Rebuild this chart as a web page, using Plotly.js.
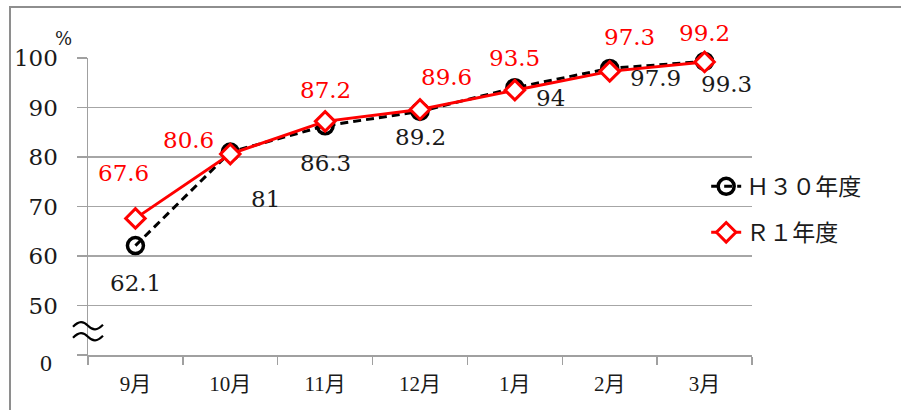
<!DOCTYPE html>
<html><head><meta charset="utf-8">
<script src="https://cdn.plot.ly/plotly-3.0.1.min.js"></script>
<style>
html,body{margin:0;padding:0;background:#fff;}
#wrap{position:relative;width:901px;height:410px;}
#chart{width:901px;height:410px;}
#frame{position:absolute;left:9px;top:6px;right:0;bottom:0;border-left:2px solid #8e8e8e;border-top:2px solid #8e8e8e;pointer-events:none;}
</style></head>
<body><div id="wrap"><div id="chart"></div><div id="frame"></div></div>
<script>
// ---- data ----
const categories = ['9月','10月','11月','12月','1月','2月','3月'];
const seriesNames = ['Ｈ３０年度','Ｒ１年度'];
const h30 = [62.1, 81, 86.3, 89.2, 94, 97.9, 99.3];
const r1  = [67.6, 80.6, 87.2, 89.6, 93.5, 97.3, 99.2];
const yTickVals = [40, 50, 60, 70, 80, 90, 100];
const yTickText = ['', '50', '60', '70', '80', '90', '100'];
const axisBaseLabel = '0';
const unitLabel = '%';

// ---- label placement (pixels: [dx, dy up]) ----
const h30Shift = [[0,-37],[35,-47],[0,-37],[0,-26],[36,-10],[46,-10],[22,-23]];
const r1Shift  = [[-12,45],[-42,14],[0,31],[26,32],[0,32],[20,34],[0,29]];

const numFont = 'DejaVu Serif, Liberation Serif, serif';
const jpFont = 'Liberation Serif, Noto Sans CJK JP, serif';

const traces = [
  {x: categories, y: h30, name: seriesNames[0], type: 'scatter', mode: 'lines+markers',
   legendgroup: 'a', cliponaxis: false,
   line: {color: '#000', width: 3, dash: '8px,5px'},
   marker: {symbol: 'circle-open', size: 16, color: '#000', line: {width: 3.5, color: '#000'}}},
  {x: categories, y: r1, name: seriesNames[1], type: 'scatter', mode: 'lines+markers',
   legendgroup: 'b', cliponaxis: false,
   line: {color: '#ff0000', width: 3},
   marker: {symbol: 'diamond', size: 15, color: '#fff', line: {width: 3, color: '#ff0000'}}}
];

const annotations = [];
h30.forEach((v, i) => annotations.push({x: categories[i], y: v, xref: 'x', yref: 'y', text: String(v),
  showarrow: false, xshift: h30Shift[i][0], yshift: h30Shift[i][1],
  font: {family: numFont, size: 23, color: '#1a1a1a'}}));
r1.forEach((v, i) => annotations.push({x: categories[i], y: v, xref: 'x', yref: 'y', text: String(v),
  showarrow: false, xshift: r1Shift[i][0], yshift: r1Shift[i][1],
  font: {family: numFont, size: 23, color: '#ff0000'}}));
annotations.push({x: 0, y: 40, xref: 'paper', yref: 'y', text: axisBaseLabel, showarrow: false,
  xanchor: 'center', yanchor: 'middle', xshift: -42, yshift: -8,
  font: {family: 'Liberation Serif, serif', size: 24, color: '#1a1a1a'}});
annotations.push({x: 0, y: 100, xref: 'paper', yref: 'y', text: unitLabel, showarrow: false,
  xanchor: 'center', yanchor: 'middle', xshift: -25, yshift: 20,
  font: {family: numFont, size: 18, color: '#1a1a1a'}});

const tilde = 'M-15,0 C-9,6 -5,6 0,1 C5,-4 9,-4 15,2';
function shiftPath(p, dy) { return p.replace(/(-?\d+),(-?\d+)/g, (m, a, b) => a + ',' + (Number(b) + dy)); }
const shapes = [
  {type: 'path', xref: 'paper', yref: 'y', xsizemode: 'pixel', ysizemode: 'pixel',
   xanchor: 0, yanchor: 44.9, path: shiftPath(tilde, 4), line: {color: '#000', width: 2.2}},
  {type: 'path', xref: 'paper', yref: 'y', xsizemode: 'pixel', ysizemode: 'pixel',
   xanchor: 0, yanchor: 44.9, path: shiftPath(tilde, -7), line: {color: '#000', width: 2.2}}
];

const layout = {
  width: 901, height: 410,
  margin: {l: 87.5, r: 148.5, t: 57.7, b: 55.3, pad: 0},
  paper_bgcolor: '#fff', plot_bgcolor: '#fff',
  showlegend: true,
  legend: {x: 0.931, y: 0.64, xanchor: 'left', yanchor: 'top', bgcolor: 'rgba(0,0,0,0)',
    traceorder: 'grouped', tracegroupgap: 13,
    font: {family: jpFont, size: 23, color: '#1a1a1a'}},
  xaxis: {type: 'category', range: [-0.5, 6.5], showgrid: false, zeroline: false,
    showline: true, linecolor: '#a0a0a0', linewidth: 1.5,
    ticks: 'outside', tickson: 'boundaries', ticklen: 8, tickcolor: '#a0a0a0', tickwidth: 1.5,
    ticklabelstandoff: 9,
    tickfont: {family: jpFont, size: 21, color: '#1a1a1a'}},
  yaxis: {range: [40, 100], tickmode: 'array', tickvals: yTickVals, ticktext: yTickText,
    showgrid: true, gridcolor: '#a6a6a6', gridwidth: 1.5, zeroline: false,
    showline: true, linecolor: '#a0a0a0', linewidth: 1.5,
    ticks: 'outside', ticklen: 10, tickcolor: '#a0a0a0', tickwidth: 1.5,
    ticklabelstandoff: 14,
    tickfont: {family: numFont, size: 23, color: '#1a1a1a'}},
  annotations: annotations,
  shapes: shapes
};

Plotly.newPlot('chart', traces, layout, {displayModeBar: false, staticPlot: true});
</script></body></html>
